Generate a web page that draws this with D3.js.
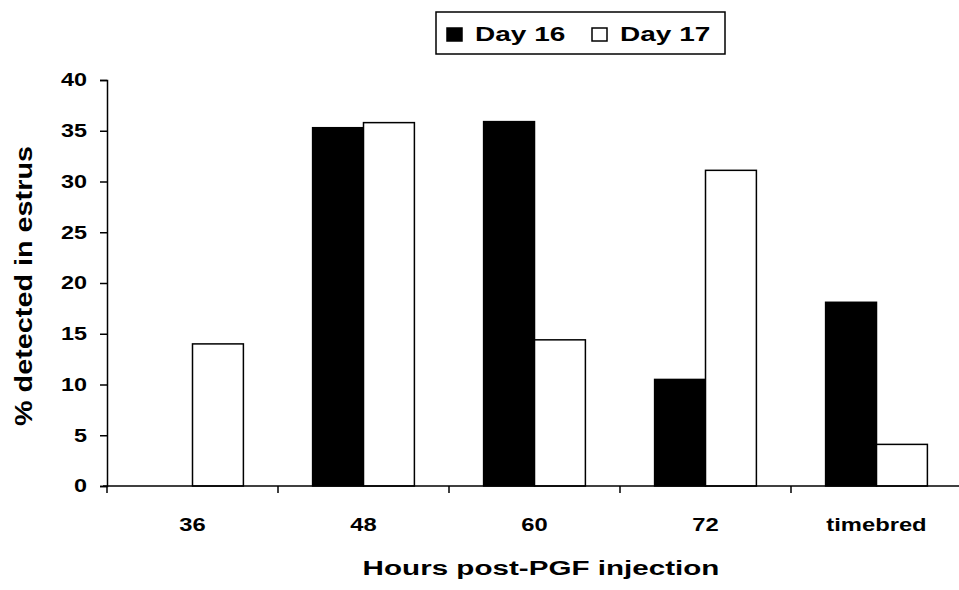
<!DOCTYPE html>
<html>
<head>
<meta charset="utf-8">
<script src="https://cdn.jsdelivr.net/npm/d3@7"></script>
<style>
  body { margin: 0; background: #fff; }
  text { font-family: "Liberation Sans", Arial, sans-serif; font-weight: bold; fill: #000; }
</style>
</head>
<body>
<div id="container"></div>
<script>
const WIDTH = 959,
  HEIGHT = 590;

// data
const categories = ["36", "48", "60", "72", "timebred"];
const seriesNames = ["Day 16", "Day 17"];
const day16 = [0, 35.3, 35.9, 10.5, 18.1];
const day17 = [14.0, 35.8, 14.4, 31.1, 4.1];
const yTicks = [0, 5, 10, 15, 20, 25, 30, 35, 40];
const seriesFill = ["#000", "#fff"];

const rows = categories.map((c, i) => ({ cat: c, values: [day16[i], day17[i]] }));

const svg = d3.select("#container")
  .append("svg")
  .attr("width", WIDTH)
  .attr("height", HEIGHT);

// Scales
const xScale = d3.scaleBand()
  .domain(categories)
  .range([107, 962]);

const xSub = d3.scaleBand()
  .domain(seriesNames)
  .range([0, xScale.bandwidth()])
  .paddingInner(0)
  .paddingOuter(0.68);

const yScale = d3.scaleLinear()
  .domain([0, 40])
  .range([486, 80]);

// Bars
svg.selectAll(".group")
  .data(rows)
  .join("g")
  .attr("class", "group")
  .attr("transform", d => `translate(${xScale(d.cat)},0)`)
  .selectAll("rect")
  .data(d => d.values.map((v, i) => ({ v, s: seriesNames[i], i })))
  .join("rect")
  .attr("x", d => xSub(d.s))
  .attr("y", d => yScale(d.v))
  .attr("width", xSub.bandwidth())
  .attr("height", d => yScale(0) - yScale(d.v))
  .style("fill", d => seriesFill[d.i])
  .style("stroke", "#000")
  .style("stroke-width", 1.5);

// y axis
const yAxis = svg.append("g")
  .attr("class", "y-axis")
  .attr("transform", `translate(${xScale.range()[0]},0)`)
  .call(d3.axisLeft(yScale).tickValues(yTicks).tickSize(7).tickPadding(13));
yAxis.select(".domain").attr("stroke-width", 1.5);
yAxis.selectAll("line").attr("stroke-width", 1.5);
yAxis.selectAll("text")
  .attr("font-size", 18)
  .attr("font-family", null)
  .attr("transform", "scale(1.3,1)")
  .attr("x", function () { return +d3.select(this).attr("x") / 1.3; });

// x axis: line, ticks at category boundaries, labels at centers
const xAxis = svg.append("g")
  .attr("class", "x-axis")
  .attr("transform", `translate(0,${yScale(0)})`);
xAxis.append("line")
  .attr("x1", xScale.range()[0] - 4)
  .attr("x2", WIDTH)
  .attr("stroke", "#000")
  .attr("stroke-width", 1.5);
xAxis.selectAll(".tick")
  .data(categories)
  .join("line")
  .attr("class", "tick")
  .attr("x1", d => xScale(d))
  .attr("x2", d => xScale(d))
  .attr("y1", 0)
  .attr("y2", 7)
  .attr("stroke", "#000")
  .attr("stroke-width", 1.5);
xAxis.selectAll(".lbl")
  .data(categories)
  .join("text")
  .attr("class", "lbl")
  .attr("text-anchor", "middle")
  .attr("font-size", 19)
  .attr("transform", d => `translate(${xScale(d) + xScale.bandwidth() / 2},45) scale(1.25,1)`)
  .text(d => d);

// axis titles
svg.append("text")
  .attr("text-anchor", "middle")
  .attr("font-size", 21)
  .attr("transform", "translate(541,575) scale(1.41,1)")
  .text("Hours post-PGF injection");

svg.append("text")
  .attr("text-anchor", "middle")
  .attr("font-size", 24)
  .attr("transform", "translate(32,286) rotate(-90) scale(1.2,1)")
  .text("% detected in estrus");

// legend
const legend = svg.append("g").attr("class", "legend");
legend.append("rect")
  .attr("x", 436).attr("y", 12)
  .attr("width", 289).attr("height", 42)
  .style("fill", "#fff").style("stroke", "#000").style("stroke-width", 1.5);
const legendX = [447, 592];
const item = legend.selectAll(".item")
  .data(seriesNames)
  .join("g")
  .attr("class", "item")
  .attr("transform", (d, i) => `translate(${legendX[i]},0)`);
item.append("rect")
  .attr("x", 0).attr("y", 28)
  .attr("width", 15).attr("height", 13)
  .style("fill", (d, i) => seriesFill[i])
  .style("stroke", "#000").style("stroke-width", 1.5);
item.append("text")
  .attr("font-size", 20)
  .attr("transform", "translate(28,41) scale(1.4,1)")
  .text(d => d);
</script>
</body>
</html>
